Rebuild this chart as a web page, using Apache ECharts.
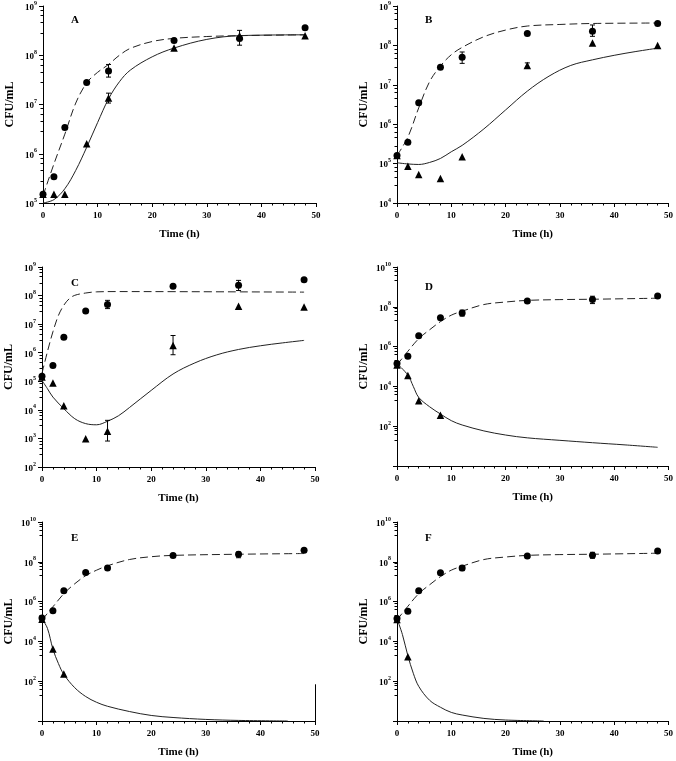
<!DOCTYPE html>
<html>
<head>
<meta charset="utf-8">
<script src="https://cdn.jsdelivr.net/npm/echarts@6/dist/echarts.min.js"></script>
<style>
  html, body { margin: 0; padding: 0; background: #fff; }
  #main { width: 676px; height: 761px; }
</style>
</head>
<body>
<div id="main"></div>
<script>
// sampling times (h)
const times = [0, 2, 4, 8, 12, 24, 36, 48];

// ---- panel A
const circA = [1.5e5, 3.4e5, 3.4e6, 2.8e7, 4.8e7, 2.0e8, 2.2e8, 3.6e8];
const triA = [1.5e5, 1.5e5, 1.5e5, 1.6e6, 1.35e7, 1.4e8, 2.5e8, 2.5e8];
const dashA = [[0, 1.4e5], [2, 6.2e5], [4, 2.5e6], [6, 1.07e7], [8, 2.75e7], [10, 4.5e7], [12, 6.5e7], [14, 1.0e8], [16, 1.38e8], [20, 1.9e8], [24, 2.2e8], [30, 2.4e8], [36, 2.5e8], [48, 2.6e8]];
const fitA = [[0, 1.0e5], [2, 1.17e5], [4, 1.95e5], [6, 4.6e5], [8, 1.35e6], [10, 4.3e6], [12, 1.3e7], [14, 2.9e7], [16, 5.0e7], [20, 9.3e7], [24, 1.4e8], [30, 2.1e8], [36, 2.5e8], [48, 2.6e8]];
const errA = [[12, 3.6e7, 6.5e7], [36, 1.6e8, 3.2e8], [12, 1.07e7, 1.7e7]];

// ---- panel B
const circB = [1.6e5, 3.5e5, 3.5e6, 2.8e7, 5.0e7, 2.0e8, 2.3e8, 3.6e8];
const triB = [1.6e5, 8.6e4, 5.3e4, 4.2e4, 1.5e5, 3.1e7, 1.15e8, 1.0e8];
const dashB = [[0, 1.6e5], [2, 4.7e5], [4, 2.6e6], [6, 1.2e7], [8, 3.0e7], [10, 5.8e7], [12, 8.9e7], [16, 1.66e8], [20, 2.45e8], [24, 3.1e8], [30, 3.4e8], [36, 3.6e8], [48, 3.7e8]];
const fitB = [[0, 1.05e5], [2, 9.8e4], [4, 9.5e4], [6, 1.07e5], [8, 1.35e5], [10, 2.0e5], [12, 2.9e5], [16, 7.6e5], [20, 2.3e6], [24, 6.9e6], [28, 1.66e7], [32, 3.1e7], [36, 4.3e7], [40, 5.6e7], [44, 7.0e7], [48, 8.5e7]];
const errB = [[12, 3.5e7, 6.8e7], [36, 1.7e8, 3.3e8], [24, 2.7e7, 3.6e7]];

// ---- panel C
const circC = [1.5e5, 3.6e5, 3.5e6, 2.9e7, 4.9e7, 2.1e8, 2.3e8, 3.6e8];
const triC = [1.4e5, 8.7e4, 1.4e4, 9.8e2, 1.8e3, 1.8e6, 4.2e7, 4.0e7];
const dashC = [[0, 1.9e5], [1, 1.1e6], [2, 5.4e6], [3, 2.0e7], [4, 4.6e7], [5, 7.8e7], [6, 1.02e8], [8, 1.23e8], [10, 1.35e8], [14, 1.38e8], [48, 1.32e8]];
const fitC = [[0, 1.07e5], [1, 5.5e4], [2, 2.8e4], [4, 1.1e4], [6, 4.9e3], [8, 3.3e3], [10, 3.0e3], [12, 4.0e3], [14, 6.2e3], [16, 1.2e4], [20, 4.8e4], [24, 1.8e5], [28, 4.4e5], [32, 8.4e5], [36, 1.3e6], [40, 1.75e6], [44, 2.2e6], [48, 2.7e6]];
const errC = [[12, 3.5e7, 6.8e7], [36, 1.5e8, 3.4e8], [12, 8.1e2, 4.3e3], [24, 8.5e5, 4.0e6]];

// ---- panel D
const circD = [1.4e5, 3.3e5, 3.5e6, 2.8e7, 4.9e7, 1.95e8, 2.3e8, 3.5e8];
const triD = [1.2e5, 3.5e4, 1.9e3, 3.6e2];
const dashD = [[0, 1.2e5], [2, 5.8e5], [4, 2.5e6], [6, 7.0e6], [8, 1.8e7], [10, 3.8e7], [12, 6.0e7], [16, 1.3e8], [20, 1.74e8], [24, 2.1e8], [30, 2.3e8], [36, 2.4e8], [48, 2.7e8]];
const fitD = [[0, 1.4e5], [2, 3.7e4], [3, 1.0e4], [4, 2.8e3], [6, 9.5e2], [8, 4.1e2], [10, 1.9e2], [12, 1.15e2], [16, 58], [20, 36], [24, 26], [30, 19.5], [36, 14.8], [42, 11.5], [48, 8.7]];
const errD = [[36, 1.45e8, 3.4e8], [12, 3.4e7, 6.8e7]];

// ---- panel E
const circE = [1.5e5, 3.5e5, 3.5e6, 2.9e7, 4.9e7, 2.1e8, 2.4e8, 3.8e8];
const triE = [1.3e5, 4.1e3, 2.3e2];
const dashE = [[0, 1.2e5], [2, 5.5e5], [4, 2.5e6], [6, 7.9e6], [8, 2.0e7], [10, 3.8e7], [12, 6.3e7], [16, 1.3e8], [20, 1.8e8], [24, 2.1e8], [36, 2.4e8], [48, 2.6e8]];
const fitE = [[0, 1.4e5], [1, 4.5e4], [2, 4.1e3], [3, 7.8e2], [4, 2.2e2], [6, 47], [8, 17], [10, 8.7], [12, 5.5], [16, 3.0], [20, 1.9], [24, 1.5], [30, 1.2], [36, 1.07], [45, 1.0]];
const errE = [[36, 1.6e8, 3.1e8], [12, 4.0e7, 6.0e7]];

// ---- panel F
const circF = [1.4e5, 3.3e5, 3.5e6, 2.8e7, 4.9e7, 1.95e8, 2.15e8, 3.5e8];
const triF = [1.25e5, 1.7e3];
const dashF = [[0, 1.2e5], [2, 5.8e5], [4, 2.5e6], [6, 7.0e6], [8, 1.8e7], [10, 3.8e7], [12, 6.0e7], [16, 1.3e8], [20, 1.74e8], [24, 2.1e8], [30, 2.3e8], [36, 2.4e8], [48, 2.7e8]];
const fitF = [[0, 1.4e5], [1, 2.2e4], [2, 1.9e3], [3, 2.5e2], [4, 55], [6, 11], [8, 4.9], [10, 2.7], [12, 2.0], [16, 1.35], [20, 1.12], [27, 1.0]];
const errF = [[36, 1.5e8, 3.0e8], [12, 3.6e7, 6.3e7]];

const panels = [
  { tag: 'A', circ: circA, tri: triA, dash: dashA, fit: fitA, err: errA, ymin: 1e5, ymax: 1e9, step: 1 },
  { tag: 'B', circ: circB, tri: triB, dash: dashB, fit: fitB, err: errB, ymin: 1e4, ymax: 1e9, step: 1 },
  { tag: 'C', circ: circC, tri: triC, dash: dashC, fit: fitC, err: errC, ymin: 1e2, ymax: 1e9, step: 1 },
  { tag: 'D', circ: circD, tri: triD, dash: dashD, fit: fitD, err: errD, ymin: 1, ymax: 1e10, step: 2 },
  { tag: 'E', circ: circE, tri: triE, dash: dashE, fit: fitE, err: errE, ymin: 1, ymax: 1e10, step: 2 },
  { tag: 'F', circ: circF, tri: triF, dash: dashF, fit: fitF, err: errF, ymin: 1, ymax: 1e10, step: 2 }
];

const grids = [
  { left: 43, top: 4, width: 273, height: 199 },
  { left: 397, top: 4, width: 273, height: 199 },
  { left: 42, top: 267, width: 273, height: 200 },
  { left: 397, top: 267, width: 272, height: 199 },
  { left: 42, top: 522, width: 273, height: 199 },
  { left: 397, top: 522, width: 272, height: 199 }
];
const letterPos = [[66, 10], [420, 10], [66, 273], [420, 277], [66, 528], [420, 528]];

const FONT = '"Liberation Serif", "Times New Roman", serif';
const INK = '#000';

const option = {
  backgroundColor: '#fff',
  animation: false,
  title: panels.map((p, i) => ({
    text: p.tag, left: letterPos[i][0], top: letterPos[i][1],
    textStyle: { fontFamily: FONT, fontSize: 11, fontWeight: 'bold', color: INK }
  })),
  grid: grids,
  xAxis: panels.map((p, i) => ({
    gridIndex: i, type: 'value', position: 'bottom', min: 0, max: 50, splitNumber: 5,
    name: 'Time (h)', nameLocation: 'middle', nameGap: 26,
    nameTextStyle: { fontFamily: FONT, fontSize: 11, fontWeight: 'bold', color: INK },
    axisLine: { show: true, onZero: false, lineStyle: { color: INK } },
    axisTick: { show: true, length: 4, lineStyle: { color: INK } },
    minorTick: { show: true, splitNumber: 5, length: 2.5, lineStyle: { color: INK } },
    axisLabel: { fontFamily: FONT, fontSize: 9, fontWeight: 'bold', color: INK, margin: 8 },
    splitLine: { show: true, lineStyle: { opacity: 0 } }
  })),
  yAxis: panels.map((p, i) => ({
    gridIndex: i, type: 'log', logBase: 10, min: p.ymin, max: p.ymax, interval: p.step,
    name: 'CFU/mL', nameLocation: 'middle', nameGap: 27,
    nameTextStyle: { fontFamily: FONT, fontSize: 12, fontWeight: 'bold', color: INK },
    axisLine: { show: true, lineStyle: { color: INK } },
    axisTick: { show: true, length: 4, lineStyle: { color: INK } },
    minorTick: { show: true, splitNumber: 5, length: 2.5, lineStyle: { color: INK } },
    axisLabel: {
      margin: 6,
      formatter: v => {
        const e = Math.round(Math.log10(v));
        if (e === 0) return '';
        return '{b|10}{s|' + e + '}';
      },
      rich: {
        b: { fontFamily: FONT, fontSize: 9, fontWeight: 'bold', color: INK, verticalAlign: 'bottom', lineHeight: 12 },
        s: { fontFamily: FONT, fontSize: 6, fontWeight: 'bold', color: INK, verticalAlign: 'top', lineHeight: 12 }
      }
    },
    splitLine: { show: false }
  })),
  series: []
};

panels.forEach((p, i) => {
  option.series.push({
    type: 'line', xAxisIndex: i, yAxisIndex: i, data: p.dash, smooth: 0.35,
    showSymbol: false, symbol: 'none',
    lineStyle: { color: '#222', width: 1, type: [8, 4] }, z: 2
  });
  const fitSeries = {
    type: 'line', xAxisIndex: i, yAxisIndex: i, data: p.fit, smooth: 0.35,
    showSymbol: false, symbol: 'none',
    lineStyle: { color: '#222', width: 1 }, z: 2
  };
  if (p.tag === 'E') {
    fitSeries.markLine = {
      silent: true, symbol: 'none', label: { show: false },
      lineStyle: { color: INK, width: 1, type: 'solid' },
      data: [[{ coord: [50, 1] }, { coord: [50, 70] }]]
    };
  }
  option.series.push(fitSeries);
  option.series.push({
    type: 'custom', xAxisIndex: i, yAxisIndex: i, data: p.err, z: 3,
    renderItem: (params, api) => {
      const lo = api.coord([api.value(0), api.value(1)]);
      const hi = api.coord([api.value(0), api.value(2)]);
      const w = 2.5;
      const st = { stroke: INK, lineWidth: 1 };
      return {
        type: 'group',
        children: [
          { type: 'line', shape: { x1: lo[0], y1: lo[1], x2: hi[0], y2: hi[1] }, style: st },
          { type: 'line', shape: { x1: lo[0] - w, y1: lo[1], x2: lo[0] + w, y2: lo[1] }, style: st },
          { type: 'line', shape: { x1: hi[0] - w, y1: hi[1], x2: hi[0] + w, y2: hi[1] }, style: st }
        ]
      };
    }
  });
  option.series.push({
    type: 'scatter', xAxisIndex: i, yAxisIndex: i,
    data: p.tri.map((v, k) => [times[k], v]),
    symbol: 'triangle', symbolSize: 7.5, itemStyle: { color: INK, opacity: 1 }, z: 4
  });
  option.series.push({
    type: 'scatter', xAxisIndex: i, yAxisIndex: i,
    data: p.circ.map((v, k) => [times[k], v]),
    symbol: 'circle', symbolSize: 7, itemStyle: { color: INK, opacity: 1 }, z: 5
  });
});

const chart = echarts.init(document.getElementById('main'), null, { renderer: 'canvas' });
chart.setOption(option);
</script>
</body>
</html>
